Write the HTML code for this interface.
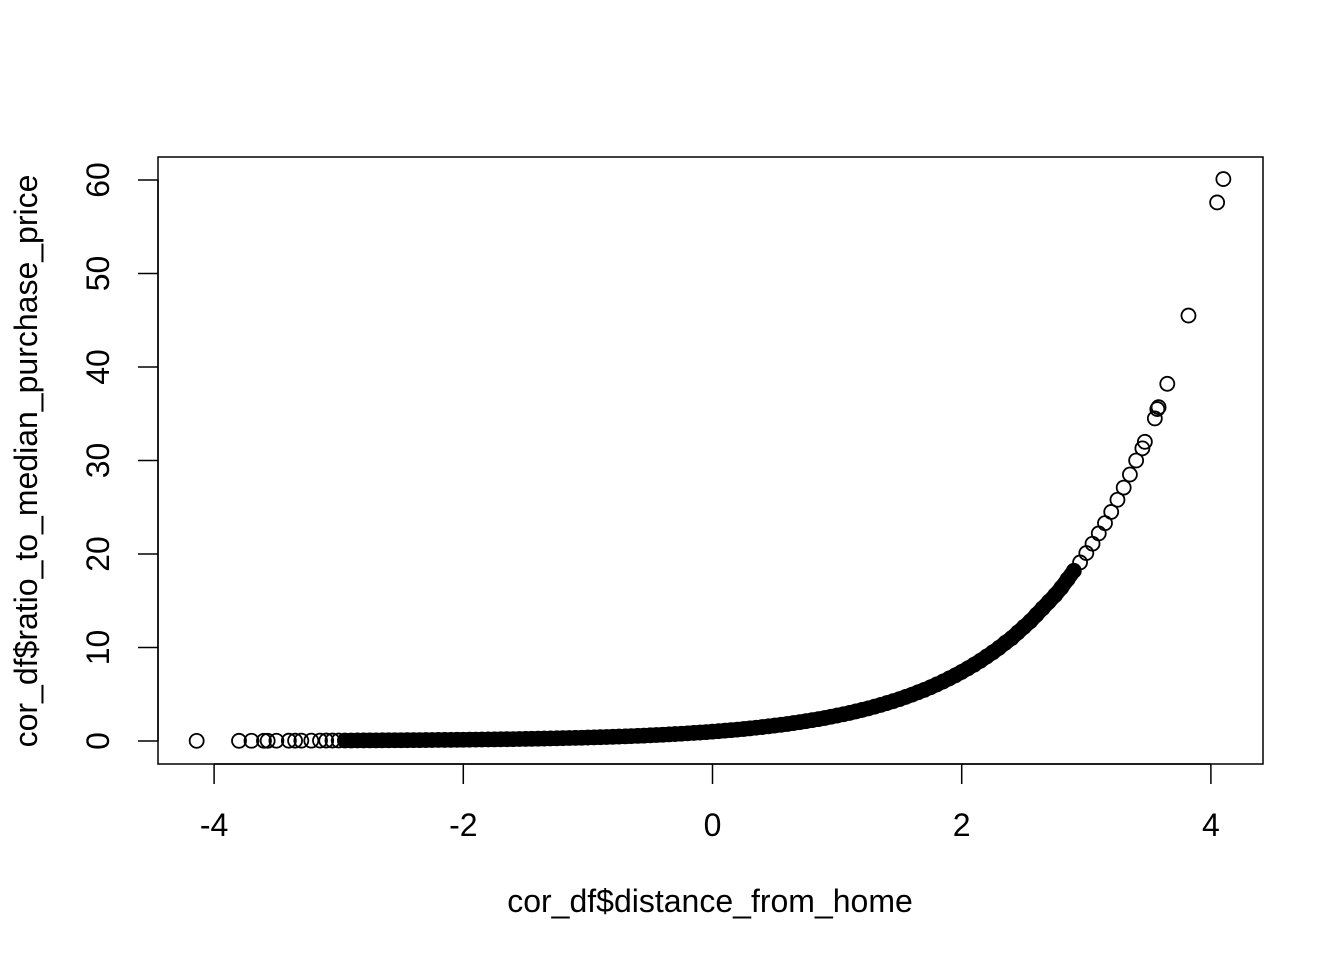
<!DOCTYPE html>
<html><head><meta charset="utf-8"><style>
html,body{margin:0;padding:0;background:#fff;}
svg{display:block;font-family:"Liberation Sans",Arial,sans-serif;}
</style></head><body>
<svg id="chart" width="1344" height="960" viewBox="0 0 1344 960">
<rect x="158" y="157" width="1105" height="607" fill="none" stroke="#000" stroke-width="1.5"/>
<g id="points"></g>
<g id="axes"></g>
<text x="710" y="912" font-size="32" text-anchor="middle">cor_df$distance_from_home</text>
<text transform="translate(37,461) rotate(-90)" font-size="32" text-anchor="middle">cor_df$ratio_to_median_purchase_price</text>
</svg>
<script>
const xValues = [-4.14,-3.8,-3.7,-3.6,-3.57,-3.5,-3.4,-3.35,-3.3,-3.22,-3.15,-3.1,-3.05,
-3.0,-2.95,-2.9,-2.85,-2.8,-2.75,-2.7,-2.65,-2.6,-2.55,-2.5,-2.45,-2.4,-2.35,-2.3,-2.25,-2.2,-2.15,-2.1,-2.05,
-2.0,-1.95,-1.9,-1.85,-1.8,-1.75,-1.7,-1.65,-1.6,-1.55,-1.5,-1.45,-1.4,-1.35,-1.3,-1.25,-1.2,-1.15,-1.1,-1.05,
-1.0,-0.95,-0.9,-0.85,-0.8,-0.75,-0.7,-0.65,-0.6,-0.55,-0.5,-0.45,-0.4,-0.35,-0.3,-0.25,-0.2,-0.15,-0.1,-0.05,
0,0.05,0.1,0.15,0.2,0.25,0.3,0.35,0.4,0.45,0.5,0.55,0.6,0.65,0.7,0.75,0.8,0.85,0.9,0.95,
1.0,1.05,1.1,1.15,1.2,1.25,1.3,1.35,1.4,1.45,1.5,1.55,1.6,1.65,1.7,1.75,1.8,1.85,1.9,1.95,
2.0,2.05,2.1,2.15,2.2,2.25,2.3,2.35,2.4,2.45,2.5,2.55,2.6,2.65,2.7,2.75,2.8,2.85,2.9,2.95,
3.0,3.05,3.1,3.15,3.2,3.25,3.3,3.35,3.4,3.45,3.47,3.55,3.57,3.58,3.65,3.82,4.05,4.1];
const yValues = [0.016,0.022,0.025,0.027,0.028,0.03,0.033,0.035,0.037,0.04,0.043,0.045,0.047,
0.05,0.052,0.055,0.058,0.061,0.064,0.067,0.071,0.074,0.078,0.082,0.086,0.091,0.095,0.1,0.105,0.111,0.116,0.122,0.129,
0.135,0.142,0.15,0.157,0.165,0.174,0.183,0.192,0.202,0.212,0.223,0.235,0.247,0.259,0.273,0.287,0.301,0.317,0.333,0.35,
0.368,0.387,0.407,0.427,0.449,0.472,0.497,0.522,0.549,0.577,0.607,0.638,0.67,0.705,0.741,0.779,0.819,0.861,0.905,0.951,
1,1.05,1.11,1.16,1.22,1.28,1.35,1.42,1.49,1.57,1.65,1.73,1.82,1.92,2.01,2.12,2.23,2.34,2.46,2.59,
2.72,2.86,3.0,3.16,3.32,3.49,3.67,3.86,4.06,4.26,4.48,4.71,4.95,5.21,5.47,5.75,6.05,6.36,6.69,7.03,
7.39,7.77,8.17,8.58,9.03,9.49,9.97,10.5,11.0,11.6,12.2,12.8,13.5,14.2,14.9,15.6,16.4,17.3,18.2,19.1,
20.1,21.1,22.2,23.3,24.5,25.8,27.1,28.5,30.0,31.3,32.0,34.5,35.5,35.7,38.2,45.5,57.6,60.1];
const xTicks = [-4,-2,0,2,4];
const xTickLabels = ["-4","-2","0","2","4"];
const yTicks = [0,10,20,30,40,50,60];
const yTickLabels = ["0","10","20","30","40","50","60"];

const NS = "http://www.w3.org/2000/svg";
function xs(v){ return 712.5 + v*124.6; }
function ys(v){ return 741 - v*9.35; }
const pg = document.getElementById('points');
// dense overlapping region rendered as solid band (overplotted circles)
let d = '';
for (let i=0;i<xValues.length;i++){
  if (xValues[i] >= -2.95 && xValues[i] <= 2.9){
    d += (d ? 'L' : 'M') + xs(xValues[i]) + ' ' + ys(yValues[i]);
  }
}
const band = document.createElementNS(NS,'path');
band.setAttribute('d', d);
band.setAttribute('fill','none');
band.setAttribute('stroke','#000');
band.setAttribute('stroke-width','15');
band.setAttribute('stroke-linecap','round');
band.setAttribute('stroke-linejoin','round');


pg.appendChild(band);
for (let i=0;i<xValues.length;i++){
  const c = document.createElementNS(NS,'circle');
  c.setAttribute('cx', xs(xValues[i]));
  c.setAttribute('cy', ys(yValues[i]));
  c.setAttribute('r', 7);
  c.setAttribute('fill','none');
  c.setAttribute('stroke','#000');
  c.setAttribute('stroke-width','1.8');
  
  
  pg.appendChild(c);
}
const ag = document.getElementById('axes');
function line(x1,y1,x2,y2,name){
  const l = document.createElementNS(NS,'line');
  l.setAttribute('x1',x1); l.setAttribute('y1',y1); l.setAttribute('x2',x2); l.setAttribute('y2',y2);
  l.setAttribute('stroke','#000'); l.setAttribute('stroke-width','1.5');
  
  
  ag.appendChild(l);
}
line(xs(xTicks[0]),764,xs(xTicks[xTicks.length-1]),764,'x-axis-line');
xTicks.forEach((t,i)=>{
  line(xs(t),764,xs(t),784,'x-tick');
  const tx = document.createElementNS(NS,'text');
  tx.setAttribute('x', xs(t)); tx.setAttribute('y', 836);
  tx.setAttribute('font-size','32'); tx.setAttribute('text-anchor','middle');
  tx.textContent = xTickLabels[i];
  
  
  ag.appendChild(tx);
});
line(158,ys(yTicks[0]),158,ys(yTicks[yTicks.length-1]),'y-axis-line');
yTicks.forEach((t,i)=>{
  line(138,ys(t),158,ys(t),'y-tick');
  const tx = document.createElementNS(NS,'text');
  tx.setAttribute('transform','translate(109,'+ys(t)+') rotate(-90)');
  tx.setAttribute('font-size','32'); tx.setAttribute('text-anchor','middle');
  tx.textContent = yTickLabels[i];
  
  
  ag.appendChild(tx);
});
</script>
</body></html>
